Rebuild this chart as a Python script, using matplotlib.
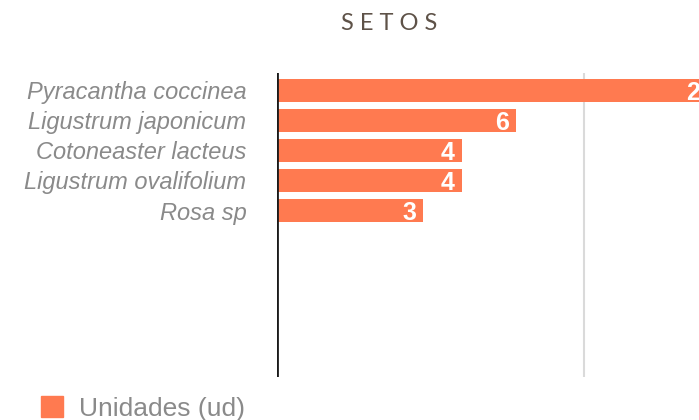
import matplotlib.pyplot as plt
from matplotlib.patches import Patch

especies = ['Pyracantha coccinea', 'Ligustrum japonicum', 'Cotoneaster lacteus',
            'Ligustrum ovalifolium', 'Rosa sp']
unidades = [28, 6, 4, 4, 3]

naranja = '#ff7a50'
gris = '#8a8a8a'

fig = plt.figure(figsize=(6.99, 4.2), dpi=100)
ax = fig.add_axes([277 / 699, 1 - 377 / 420, 1 - 277 / 699, (377 - 73) / 420])

ax.set_xscale('log')
pos = list(range(len(especies)))
ax.barh(pos, [v - 1 for v in unidades], left=1, height=0.77, color=naranja, zorder=2)
ax.set_xlim(1, 10 ** (422 / 307))
ax.set_ylim(9.53, -0.57)

# etiquetas de valor dentro de la barra
for p, v in zip(pos, unidades):
    ax.annotate(str(v), (v, p), xytext=(-5, 0), textcoords='offset points',
                ha='right', va='center_baseline', color='white', fontsize=18,
                fontweight='bold', family='Liberation Sans', annotation_clip=False)

ax.axvline(10, color='#dadada', lw=1.5, zorder=1)
ax.axvline(1, color='#1a1a1a', lw=2, zorder=3)

for s in ax.spines.values():
    s.set_visible(False)
ax.set_xticks([])
ax.set_xticks([], minor=True)
ax.set_yticks(pos)
ax.set_yticklabels(especies, fontsize=17, style='italic', color=gris, family='Liberation Sans')
ax.tick_params(axis='y', length=0, pad=22)

fig.text(389 / 699, 1 - 23 / 420, 'S E T O S', ha='center', va='center',
         fontsize=17, color='#5e5248', family='Lato')

fig.legend(handles=[Patch(color=naranja, label='Unidades (ud)')], loc='lower left',
           bbox_to_anchor=(38 / 699, -0.008), frameon=False, fontsize=19,
           handlelength=0.85, handleheight=0.85, handletextpad=0.6,
           borderpad=0.1, borderaxespad=0, labelcolor=gris,
           prop={'family': 'Liberation Sans', 'size': 19})

fig.savefig('out.png', dpi=100)
